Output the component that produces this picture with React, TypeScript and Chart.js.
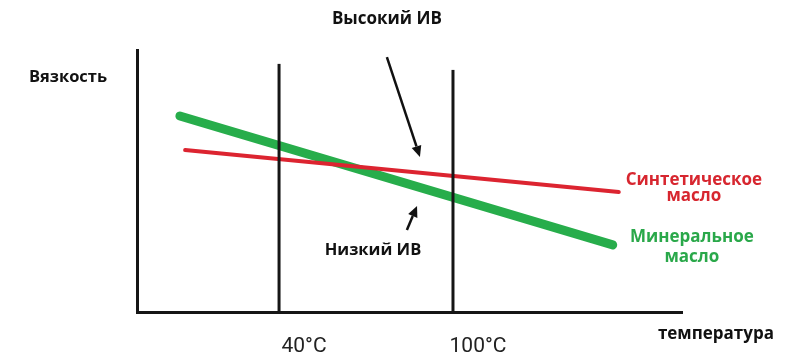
import React, { useEffect, useRef } from "react";
import { Chart, registerables } from "chart.js";

Chart.register(...registerables);

// Data (temperature °C on x, relative viscosity on y)
const tickValues = [40, 100];
const tickLabels = ["40°C", "100°C"];
const syntheticX = [7.6, 157.2];
const syntheticY = [61.8, 45.8];
const mineralX = [5.8, 155.1];
const mineralY = [74.8, 25.6];
const line40X = [40, 40];
const line40Y = [0, 94.7];
const line100X = [100, 100];
const line100Y = [0, 92.4];

// Annotations in data units
const arrows = [
  { from: [77.2, 97.3], to: [88.6, 59.2] },
  { from: [84.1, 31.3], to: [87.6, 40.5] },
];
const labels = [
  { text: "Высокий ИВ", x: 77.2, y: 111.8, color: "#111111", size: 17 },
  { text: "Вязкость", x: -32.8, y: 89.7, color: "#111111", size: 16.5 },
  { text: "Низкий ИВ", x: 72.4, y: 23.7, color: "#111111", size: 16.5 },
  { text: "Синтетическое", x: 183.1, y: 50.4, color: "#d7262f", size: 17 },
  { text: "масло", x: 183.1, y: 44.3, color: "#d7262f", size: 17 },
  { text: "Минеральное", x: 182.4, y: 28.6, color: "#2aa84a", size: 17 },
  { text: "масло", x: 182.4, y: 21.0, color: "#2aa84a", size: 17 },
  { text: "температура", x: 190.7, y: -8.4, color: "#111111", size: 17 },
];

const pts = (xs: number[], ys: number[]) => xs.map((x, i) => ({ x, y: ys[i] }));

const annotationPlugin = {
  id: "annotations",
  afterDatasetsDraw(chart: any) {
    const { ctx, scales } = chart;
    const sx = scales.x;
    const sy = scales.y;
    ctx.save();
    arrows.forEach((a) => {
      const x1 = sx.getPixelForValue(a.from[0]);
      const y1 = sy.getPixelForValue(a.from[1]);
      const x2 = sx.getPixelForValue(a.to[0]);
      const y2 = sy.getPixelForValue(a.to[1]);
      const ang = Math.atan2(y2 - y1, x2 - x1);
      const hl = 11;
      const hw = 5;
      const bx = x2 - hl * Math.cos(ang);
      const by = y2 - hl * Math.sin(ang);
      ctx.strokeStyle = "#111111";
      ctx.lineWidth = 2.5;
      ctx.beginPath();
      ctx.moveTo(x1, y1);
      ctx.lineTo(bx, by);
      ctx.stroke();
      ctx.fillStyle = "#111111";
      ctx.beginPath();
      ctx.moveTo(x2, y2);
      ctx.lineTo(bx + hw * Math.sin(ang), by - hw * Math.cos(ang));
      ctx.lineTo(bx - hw * Math.sin(ang), by + hw * Math.cos(ang));
      ctx.closePath();
      ctx.fill();
    });
    ctx.textAlign = "center";
    ctx.textBaseline = "middle";
    labels.forEach((l) => {
      ctx.font = `bold ${l.size}px "Open Sans", "DejaVu Sans", sans-serif`;
      ctx.fillStyle = l.color;
      ctx.fillText(l.text, sx.getPixelForValue(l.x), sy.getPixelForValue(l.y));
    });
    ctx.restore();
  },
};

export default function App() {
  const ref = useRef<HTMLCanvasElement | null>(null);

  useEffect(() => {
    document.body.style.margin = "0";
    if (!ref.current) return;
    const chart = new Chart(ref.current, {
      type: "line",
      data: {
        datasets: [
          { data: pts(line40X, line40Y), borderColor: "#161616", borderWidth: 3, pointRadius: 0 },
          { data: pts(line100X, line100Y), borderColor: "#161616", borderWidth: 3, pointRadius: 0 },
          {
            label: "Синтетическое масло",
            data: pts(syntheticX, syntheticY),
            borderColor: "#dc2430",
            borderWidth: 4,
            borderCapStyle: "round",
            pointRadius: 0,
          },
          {
            label: "Минеральное масло",
            data: pts(mineralX, mineralY),
            borderColor: "#27ad4b",
            borderWidth: 9,
            borderCapStyle: "round",
            pointRadius: 0,
          },
        ],
      },
      options: {
        responsive: false,
        animation: false,
        layout: { padding: { top: 50, right: 104, left: 0, bottom: 0 } },
        plugins: { legend: { display: false }, tooltip: { enabled: false } },
        scales: {
          x: {
            type: "linear",
            min: -9,
            max: 179,
            grid: { display: false, drawTicks: false },
            border: { display: true, color: "#161616", width: 3 },
            afterBuildTicks: (s: any) => {
              s.ticks = tickValues.map((v) => ({ value: v }));
            },
            afterFit: (s: any) => {
              s.height = 50;
            },
            ticks: {
              padding: 22,
              labelOffset: 25,
              color: "#222222",
              font: { family: '"Liberation Sans Narrow", "Roboto", sans-serif', size: 21 },
              callback: (v: any) => tickLabels[tickValues.indexOf(Number(v))] ?? "",
            },
          },
          y: {
            type: "linear",
            min: 0,
            max: 100,
            grid: { display: false, drawTicks: false },
            border: { display: true, color: "#161616", width: 3 },
            ticks: { display: false },
            afterFit: (s: any) => {
              s.width = 137;
            },
          },
        },
      },
      plugins: [annotationPlugin],
    });
    return () => chart.destroy();
  }, []);

  return (
    <div style={{ width: 786, height: 362, background: "#ffffff" }}>
      <canvas ref={ref} width={786} height={362} />
    </div>
  );
}
